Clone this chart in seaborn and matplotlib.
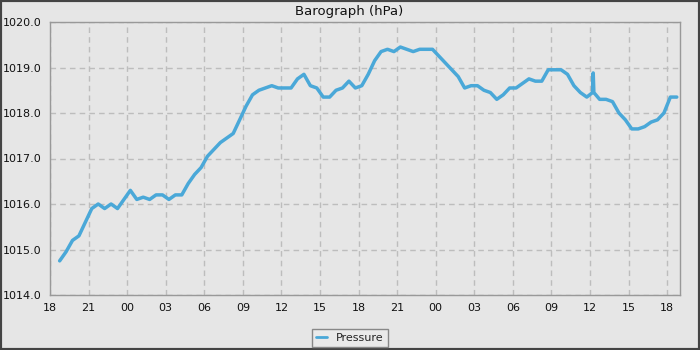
import numpy as np
import pandas as pd
import matplotlib
matplotlib.use("Agg")
import matplotlib.pyplot as plt
import matplotlib.dates as mdates
from matplotlib.ticker import MultipleLocator, FormatStrFormatter
from matplotlib.patches import Rectangle
from matplotlib.lines import Line2D
import seaborn as sns

# ---- data (half-hourly readings, hPa) ----
start_time = "2024-01-01 18:45"
pressure = [
    1014.75, 1014.95, 1015.20, 1015.30, 1015.60, 1015.90, 1016.00, 1015.90,
    1016.00, 1015.90, 1016.10, 1016.30, 1016.10, 1016.15, 1016.10, 1016.20,
    1016.20, 1016.10, 1016.20, 1016.20, 1016.45, 1016.65, 1016.80, 1017.05,
    1017.20, 1017.35, 1017.45, 1017.55, 1017.85, 1018.15, 1018.40, 1018.50,
    1018.55, 1018.60, 1018.55, 1018.55, 1018.55, 1018.75, 1018.85, 1018.60,
    1018.55, 1018.35, 1018.35, 1018.50, 1018.55, 1018.70, 1018.55, 1018.60,
    1018.85, 1019.15, 1019.35, 1019.40, 1019.35, 1019.45, 1019.40, 1019.35,
    1019.40, 1019.40, 1019.40, 1019.25, 1019.10, 1018.95, 1018.80, 1018.55,
    1018.60, 1018.60, 1018.50, 1018.45, 1018.30, 1018.40, 1018.55, 1018.55,
    1018.65, 1018.75, 1018.70, 1018.70, 1018.95, 1018.95, 1018.95, 1018.85,
    1018.60, 1018.45, 1018.35, 1018.88, 1018.30, 1018.30, 1018.25, 1018.00,
    1017.85, 1017.65, 1017.65, 1017.70, 1017.80, 1017.85, 1018.00, 1018.35,
    1018.35,
]
extra_times = ["2024-01-03 12:12", "2024-01-03 12:18"]
extra_pressure = [1018.45, 1018.45]

times = pd.date_range(start_time, periods=len(pressure), freq="30min")
df = pd.DataFrame({"time": list(times) + list(pd.to_datetime(extra_times)),
                   "Pressure": pressure + extra_pressure}).sort_values("time")

# ---- style ----
bg = "#e6e6e6"
sns.set_theme(style="white", rc={
    "axes.facecolor": bg, "figure.facecolor": bg,
    "axes.edgecolor": "#999999", "axes.linewidth": 1.0,
    "xtick.color": "#333333", "ytick.color": "#333333",
})
plt.rcParams["font.family"] = ["DejaVu Sans"]

fig = plt.figure(figsize=(7, 3.5), dpi=100)
ax = fig.add_axes([50/700, 55/350, 630/700, 273/350])

sns.lineplot(data=df, x="time", y="Pressure", ax=ax, color="#4aa8d8",
             linewidth=2.5, label="Pressure", legend=False)

ax.set_xlim(pd.Timestamp("2024-01-01 18:00"), pd.Timestamp("2024-01-03 19:00"))
ax.set_ylim(1014.0, 1020.0)
ax.xaxis.set_major_locator(mdates.HourLocator(byhour=range(0, 24, 3)))
ax.xaxis.set_minor_locator(mdates.HourLocator())
ax.xaxis.set_major_formatter(mdates.DateFormatter("%H"))
ax.yaxis.set_major_locator(MultipleLocator(1.0))
ax.yaxis.set_minor_locator(MultipleLocator(0.5))
ax.yaxis.set_major_formatter(FormatStrFormatter("%.1f"))
ax.tick_params(axis="both", which="major", direction="out", length=4, width=1,
               labelsize=8, color="#222222", labelcolor="#111111", pad=2)
ax.tick_params(axis="both", which="minor", direction="out", length=3, width=1,
               color="#222222")
ax.set_xlabel("")
ax.set_ylabel("")
ax.grid(True, which="major", color="#bdbdbd", linestyle=(0, (4, 3)), linewidth=1)
for s in ax.spines.values():
    s.set_visible(True)
    s.set_color("#999999")

fig.text(0.4985, 1 - 11/350, "Barograph (hPa)", fontsize=9.5, color="#111111",
         ha="center", va="center")

handle = Line2D([], [], color="#4aa8d8", linewidth=2)
leg = fig.legend([handle], ["Pressure"], loc="center",
                 bbox_to_anchor=(0.5, 12/350), fontsize=8, frameon=True,
                 fancybox=False, edgecolor="#888888", facecolor="#eaeaea",
                 framealpha=1, handlelength=1.0, borderpad=0.35,
                 handletextpad=0.8)
leg.get_frame().set_linewidth(1)

# figure border
fig.patches.append(Rectangle((0, 0), 1, 1, transform=fig.transFigure,
                             fill=False, edgecolor="#444444", linewidth=3))

fig.savefig("out.png", dpi=100, facecolor=bg)
